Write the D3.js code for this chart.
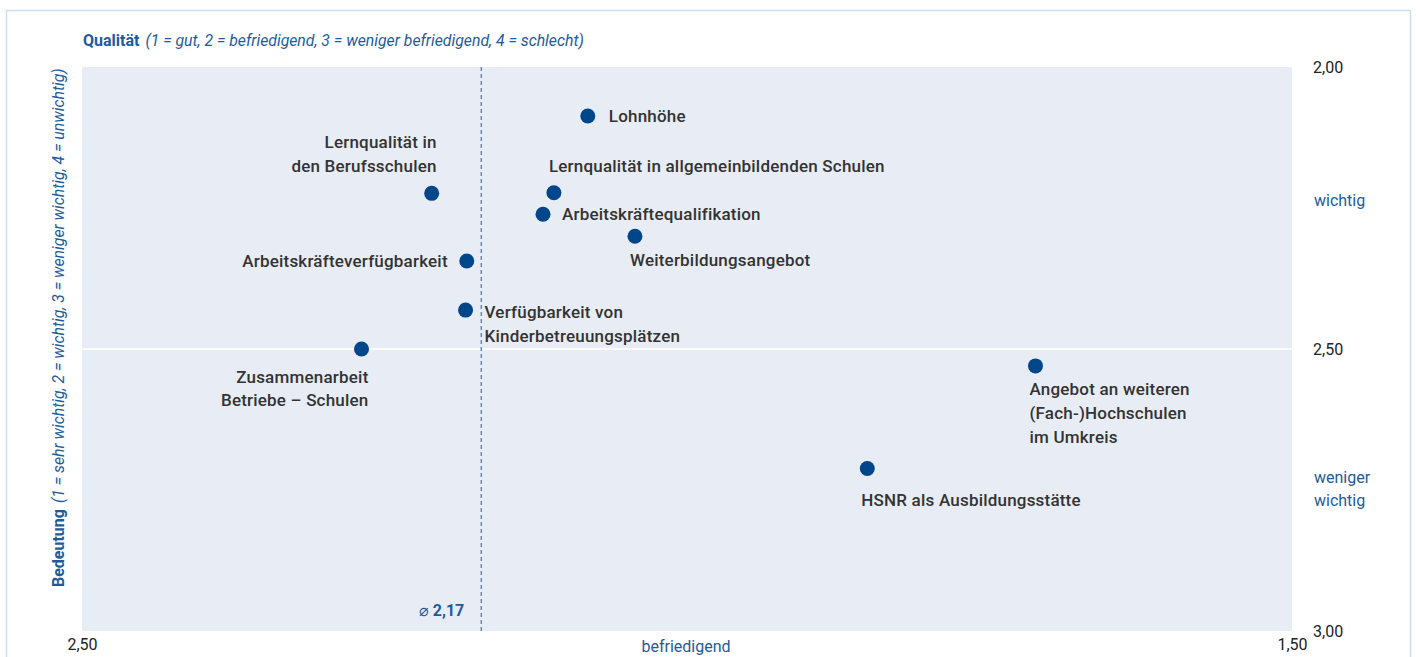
<!DOCTYPE html>
<html><head><meta charset="utf-8">
<script src="https://cdn.jsdelivr.net/npm/d3@7"></script>
<style>
html,body{margin:0;padding:0;background:#fff;}
svg{display:block;font-family:Roboto,"Open Sans",sans-serif;}
</style></head>
<body>
<svg id="chart" width="1416" height="657"></svg>
<script>
// ---- data ----
const names = [
  "Lohnhöhe",
  "Lernqualität in den Berufsschulen",
  "Lernqualität in allgemeinbildenden Schulen",
  "Arbeitskräftequalifikation",
  "Weiterbildungsangebot",
  "Arbeitskräfteverfügbarkeit",
  "Verfügbarkeit von Kinderbetreuungsplätzen",
  "Zusammenarbeit Betriebe – Schulen",
  "Angebot an weiteren (Fach-)Hochschulen im Umkreis",
  "HSNR als Ausbildungsstätte"
];
const labelLines = [
  ["Lohnhöhe"],
  ["Lernqualität in", "den Berufsschulen"],
  ["Lernqualität in allgemeinbildenden Schulen"],
  ["Arbeitskräftequalifikation"],
  ["Weiterbildungsangebot"],
  ["Arbeitskräfteverfügbarkeit"],
  ["Verfügbarkeit von", "Kinderbetreuungsplätzen"],
  ["Zusammenarbeit", "Betriebe – Schulen"],
  ["Angebot an weiteren", "(Fach-)Hochschulen", "im Umkreis"],
  ["HSNR als Ausbildungsstätte"]
];
const quality    = [2.082, 2.211, 2.110, 2.119, 2.043, 2.182, 2.183, 2.269, 1.712, 1.851];
const importance = [2.087, 2.224, 2.223, 2.261, 2.300, 2.344, 2.431, 2.500, 2.530, 2.712];
const meanQuality = 2.17;
const xTicks = [2.50, 1.50];
const yTicks = [2.00, 2.50, 3.00];
const xTickLabels = ["2,50", "1,50"];
const yTickLabels = ["2,00", "2,50", "3,00"];
const meanLabel = "2,17";

// ---- layout (label placement relative to dot) ----
const labelLayout = [
  {anchor:"start", dx:21, dy:[6]},
  {anchor:"end",   dx:5,  dy:[-45,-21]},
  {anchor:"start", dx:-5, dy:[-21]},
  {anchor:"start", dx:19, dy:[6]},
  {anchor:"start", dx:-5, dy:[30]},
  {anchor:"end",   dx:-19,dy:[6]},
  {anchor:"start", dx:19, dy:[8,32]},
  {anchor:"end",   dx:7,  dy:[34,57]},
  {anchor:"start", dx:-6, dy:[29,53,77]},
  {anchor:"start", dx:-6, dy:[37]}
];

const svg = d3.select("#chart");
const L = 82, R = 1292, T = 67, B = 631;
const x = d3.scaleLinear().domain([2.5, 1.5]).range([L, R]);
const y = d3.scaleLinear().domain([2.0, 3.0]).range([T, B]);

const blue = "#1d5c9b", dot = "#00468b", txt = "#333333";

// outer frame
svg.append("rect").attr("x",6.5).attr("y",10.5).attr("width",1404).attr("height",700)
  .attr("fill","none").attr("stroke","#cfdcec").attr("stroke-width",1.5);

// plot background
svg.append("rect").attr("x",L).attr("y",T).attr("width",R-L).attr("height",B-T).attr("fill","#e8edf5");

// mid horizontal line at 2.50
svg.append("line").attr("x1",L).attr("x2",R).attr("y1",y(2.5)).attr("y2",y(2.5))
  .attr("stroke","#fff").attr("stroke-width",1.5);

// mean dashed line
svg.append("line").attr("x1",x(meanQuality)).attr("x2",x(meanQuality)).attr("y1",T).attr("y2",B)
  .attr("stroke","#5b8ec9").attr("stroke-width",1.5).attr("stroke-dasharray","4,3");

const mt = svg.append("text").attr("x",x(meanQuality)-17).attr("y",616).attr("text-anchor","end")
  .attr("fill",blue).attr("font-size",16);
mt.append("tspan").text("⌀ ");
mt.append("tspan").attr("font-weight",700).text(meanLabel);

// x axis (bottom) labels
const xAxis = d3.axisBottom(x).tickValues(xTicks).tickFormat((d,i)=>xTickLabels[i]).tickSize(0).tickPadding(8);
const gx = svg.append("g").attr("transform",`translate(0,${B})`).call(xAxis);
gx.select(".domain").remove();
gx.selectAll("text").attr("font-size",16).attr("fill","#222").attr("font-family","Roboto");

// y axis (right) labels
const yAxis = d3.axisRight(y).tickValues(yTicks).tickFormat((d,i)=>yTickLabels[i]).tickSize(0).tickPadding(0);
const gy = svg.append("g").attr("transform",`translate(1313,0)`).call(yAxis);
gy.select(".domain").remove();
gy.selectAll("text").attr("font-size",16).attr("fill","#222").attr("font-family","Roboto").attr("dy","0.35em");

// descriptive axis words
svg.append("text").attr("x",686).attr("y",652).attr("text-anchor","middle")
  .attr("fill",blue).attr("font-size",16).text("befriedigend");
svg.append("text").attr("x",1314).attr("y",206).attr("fill",blue).attr("font-size",16).text("wichtig");
const ww = svg.append("text").attr("x",1314).attr("y",483).attr("fill",blue).attr("font-size",16);
ww.append("tspan").attr("x",1314).text("weniger");
ww.append("tspan").attr("x",1314).attr("dy",23).text("wichtig");

// title
const tt = svg.append("text").attr("x",83).attr("y",46).attr("fill",blue).attr("font-size",16);
tt.append("tspan").attr("font-weight",700).text("Qualität");
tt.append("tspan").attr("font-style","italic").attr("dx",6).attr("font-size",15.8)
  .text("(1 = gut, 2 = befriedigend, 3 = weniger befriedigend, 4 = schlecht)");

// y-axis title (rotated)
const yt = svg.append("text").attr("transform","translate(64,587) rotate(-90)")
  .attr("fill",blue).attr("font-size",16);
yt.append("tspan").attr("font-weight",700).text("Bedeutung");
yt.append("tspan").attr("font-style","italic").attr("dx",6).attr("font-size",15.8)
  .text("(1 = sehr wichtig, 2 = wichtig, 3 = weniger wichtig, 4 = unwichtig)");

// points
const pts = names.map((n,i)=>({name:n, q:quality[i], imp:importance[i], lines:labelLines[i], lay:labelLayout[i]}));
svg.append("g").selectAll("circle").data(pts).join("circle")
  .attr("cx",d=>x(d.q)).attr("cy",d=>y(d.imp)).attr("r",7.5).attr("fill",dot);

// labels
const lg = svg.append("g").attr("font-size",17).attr("font-weight",500).attr("fill",txt)
  .attr("letter-spacing",0.2);
pts.forEach(d=>{
  const t = lg.append("text").attr("text-anchor",d.lay.anchor);
  d.lines.forEach((ln,j)=>{
    t.append("tspan").attr("x",x(d.q)+d.lay.dx).attr("y",y(d.imp)+d.lay.dy[j]).text(ln);
  });
});
</script>
</body></html>
